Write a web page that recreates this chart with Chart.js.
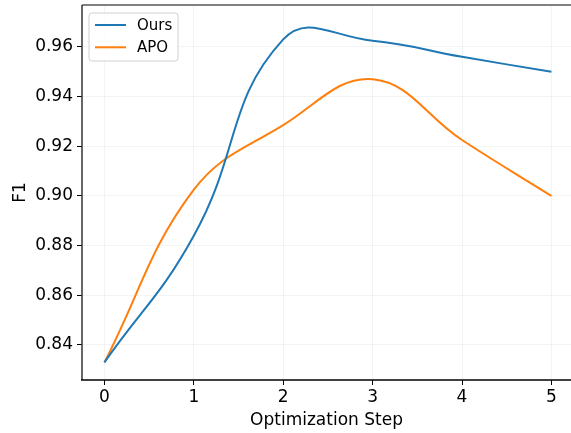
<!DOCTYPE html>
<html>
<head>
<meta charset="utf-8">
<script src="https://cdn.jsdelivr.net/npm/chart.js@4"></script>
<style>
  html, body { margin: 0; padding: 0; background: #fff; }
  #wrap { width: 571px; height: 433px; }
</style>
</head>
<body>
<div id="wrap"><canvas id="c" width="571" height="433"></canvas></div>
<script>
// data
const steps = [0, 1, 2, 3, 4, 5];
const oursF1 = [0.833, 0.884, 0.963, 0.9625, 0.956, 0.950];
const apoF1 = [0.833, 0.9025, 0.9285, 0.947, 0.9225, 0.900];
const xTicks = [0, 1, 2, 3, 4, 5];
const yTicks = [0.84, 0.86, 0.88, 0.90, 0.92, 0.94, 0.96];

const FONT = "'DejaVu Sans', sans-serif";

// matplotlib-ish frame: gray top spine, dark left/bottom
const framePlugin = {
    id: 'frame',
    afterDraw(chart) {
        const { ctx, chartArea: a } = chart;
        ctx.save();
        ctx.lineWidth = 2;
        ctx.strokeStyle = '#808080';
        ctx.beginPath();
        ctx.moveTo(a.left, a.top);
        ctx.lineTo(a.right, a.top);
        ctx.stroke();
        ctx.lineWidth = 1.5;
        ctx.strokeStyle = '#333';
        ctx.beginPath();
        ctx.moveTo(a.left, a.top);
        ctx.lineTo(a.left, a.bottom);
        ctx.stroke();
        ctx.strokeStyle = '#000';
        ctx.beginPath();
        ctx.moveTo(a.left - 1, a.bottom);
        ctx.lineTo(a.right, a.bottom);
        ctx.stroke();
        ctx.restore();
    }
};

// legend box in the upper left of the plot
const legendPlugin = {
    id: 'boxLegend',
    afterDraw(chart) {
        const { ctx, chartArea: a } = chart;
        const x = a.left + 7, y = a.top + 8, w = 89, h = 48;
        ctx.save();
        ctx.beginPath();
        ctx.roundRect(x, y, w, h, 3);
        ctx.fillStyle = 'rgba(255,255,255,0.8)';
        ctx.fill();
        ctx.strokeStyle = '#d0d0d0';
        ctx.lineWidth = 1;
        ctx.stroke();
        ctx.font = '15px ' + FONT;
        ctx.textBaseline = 'middle';
        chart.data.datasets.forEach((ds, i) => {
            const ly = y + 12 + i * 22.3;
            ctx.strokeStyle = ds.borderColor;
            ctx.lineWidth = 2;
            ctx.beginPath();
            ctx.moveTo(x + 6, ly);
            ctx.lineTo(x + 37, ly);
            ctx.stroke();
            ctx.fillStyle = '#000';
            ctx.fillText(ds.label, x + 48, ly + 1);
        });
        ctx.restore();
    }
};

new Chart(document.getElementById('c'), {
    type: 'line',
    data: {
        datasets: [
            {
                label: 'Ours',
                data: steps.map((s, i) => ({ x: s, y: oursF1[i] })),
                borderColor: '#1f77b4',
                borderWidth: 2,
                tension: 0.45,
                pointRadius: 0
            },
            {
                label: 'APO',
                data: steps.map((s, i) => ({ x: s, y: apoF1[i] })),
                borderColor: '#ff7f0e',
                borderWidth: 2,
                tension: 0.4,
                pointRadius: 0
            }
        ]
    },
    options: {
        responsive: false,
        animation: false,
        layout: { padding: { top: 5, right: 0, left: 0, bottom: 0 } },
        plugins: {
            legend: { display: false },
            tooltip: { enabled: false }
        },
        scales: {
            x: {
                type: 'linear',
                min: -0.2506,
                max: 5.219,
                afterBuildTicks: (axis) => { axis.ticks = xTicks.map(v => ({ value: v })); },
                afterFit: (axis) => {
                    axis.height = 53;
                    axis.paddingLeft = 0;
                    axis.paddingRight = 0;
                },
                ticks: {
                    color: '#000',
                    font: { family: FONT, size: 17 },
                    padding: 2,
                    maxRotation: 0,
                    callback: (v) => String(v)
                },
                grid: { color: 'rgba(0,0,0,0.045)', tickColor: '#000', tickLength: 5 },
                border: { display: false },
                title: {
                    display: true,
                    text: 'Optimization Step',
                    color: '#000',
                    font: { family: FONT, size: 17 },
                    padding: { top: 0, bottom: 2 }
                }
            },
            y: {
                min: 0.82589,
                max: 0.97686,
                afterBuildTicks: (axis) => { axis.ticks = yTicks.map(v => ({ value: v })); },
                afterFit: (axis) => {
                    axis.width = 82;
                    axis.paddingTop = 0;
                    axis.paddingBottom = 0;
                },
                ticks: {
                    color: '#000',
                    font: { family: FONT, size: 17 },
                    padding: 4,
                    callback: (v) => v.toFixed(2)
                },
                grid: { color: 'rgba(0,0,0,0.045)', tickColor: '#000', tickLength: 5 },
                border: { display: false },
                title: {
                    display: true,
                    text: 'F1',
                    color: '#000',
                    font: { family: FONT, size: 17 },
                    padding: { top: 10, bottom: 0 }
                }
            }
        }
    },
    plugins: [framePlugin, legendPlugin]
});
</script>
</body>
</html>
